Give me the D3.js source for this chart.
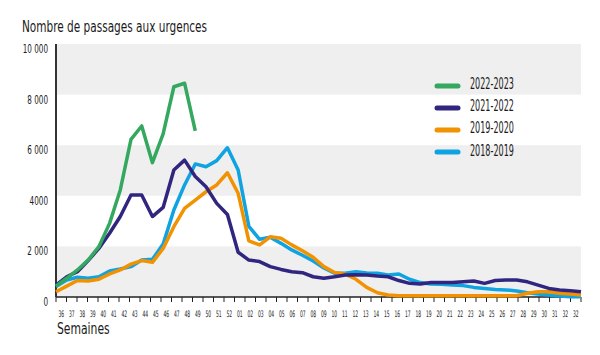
<!DOCTYPE html>
<html><head><meta charset="utf-8">
<script src="https://cdn.jsdelivr.net/npm/d3@7"></script>
<style>
body{margin:0;background:#fff;}
svg text{font-family:"Liberation Sans Narrow","DejaVu Sans Condensed",sans-serif;fill:#1a1a1a;}
</style></head><body>
<svg id="c" width="600" height="355"></svg>
<script>
const weeks = ["36","37","38","39","40","41","42","43","44","45","46","47","48","49","50","51","52",
"01","02","03","04","05","06","07","08","09","10","11","12","13","14","15","16","17","18","19","20",
"21","22","23","24","25","26","27","28","29","30","31","32","32"];
const yTicks = [0,2000,4000,6000,8000,10000];
const yTickLabels = ["0","2 000","4000","6 000","8 000","10 000"];
const seriesNames = ["2022-2023","2021-2022","2019-2020","2018-2019"];
const seriesColors = ["#35a85f","#31267f","#f39200","#0fa3e2"];
const s2022 = [430,740,1070,1460,1990,2910,4230,6230,6760,5310,6450,8310,8450,6570];
const s2021 = [470,800,1000,1440,1920,2520,3180,4030,4030,3180,3540,5020,5410,4760,4360,3700,3260,1770,1460,1400,1200,1090,1000,960,800,740,800,870,880,870,830,800,650,540,510,570,570,570,600,630,540,650,670,670,600,470,340,280,250,210];
const s2019 = [210,430,650,630,700,910,1070,1300,1440,1370,1920,2780,3500,3830,4160,4430,4910,4100,2220,2060,2380,2320,2060,1830,1570,1200,970,900,700,380,170,80,50,50,50,50,50,50,50,50,50,50,50,50,145,210,210,145,120,80];
const s2018 = [410,670,780,740,800,1030,1110,1200,1460,1490,2090,3440,4430,5260,5150,5390,5900,5020,2790,2280,2360,2120,1860,1650,1420,1150,940,935,1000,950,940,870,910,700,570,510,500,470,450,380,340,300,280,240,170,120,80,40,10,10];
const seriesData = [s2022,s2021,s2019,s2018];

const svg = d3.select("#c");
const L = 56, R = 581, T = 44, B = 297;
const idx = d3.range(weeks.length);
const xb = d3.scaleBand().domain(idx).range([L,R]).padding(0);
const xp = d3.scalePoint().domain(idx).range([L,R]);
const y = d3.scaleLinear().domain([0,10000]).range([B,T]);

// alternating bands
const bandStarts = [0,4000,8000];
svg.append("g").selectAll("rect").data(bandStarts).join("rect")
  .attr("x",L).attr("width",R-L)
  .attr("y",d=>y(d+2000)).attr("height",d=>y(d)-y(d+2000))
  .attr("fill","#efefef");

// y labels
svg.append("g").selectAll("text").data(yTicks).join("text")
  .attr("transform",d=>`translate(48,${y(d)+9}) scale(0.7,1)`)
  .attr("text-anchor","end").attr("font-size",11.5)
  .text((d,i)=>yTickLabels[i]);

// x axis
const xg = svg.append("g").attr("transform",`translate(0,${B})`);
xg.append("line").attr("x1",L).attr("x2",R).attr("stroke","#222").attr("stroke-width",1.5);
xg.selectAll("line.t").data(d3.range(weeks.length+1)).join("line").attr("class","t")
  .attr("x1",d=>L+d*xb.bandwidth()).attr("x2",d=>L+d*xb.bandwidth())
  .attr("y1",0).attr("y2",5).attr("stroke","#222").attr("stroke-width",1);
xg.selectAll("text").data(idx).join("text")
  .attr("transform",d=>`translate(${xb(d)+xb.bandwidth()/2},19.5) scale(0.55,1)`)
  .attr("text-anchor","middle").attr("font-size",9)
  .text(d=>weeks[d]);

// y axis line
svg.append("line").attr("x1",L).attr("x2",L).attr("y1",T).attr("y2",B)
  .attr("stroke","#333").attr("stroke-width",2);

// lines
const line = d3.line().x((d,i)=>xp(i)).y(d=>y(d)).curve(d3.curveLinear);
[3,2,1,0].forEach(k=>{
  svg.append("path").datum(seriesData[k]).attr("d",line)
    .attr("fill","none").attr("stroke",seriesColors[k]).attr("stroke-width",3.5)
    .attr("stroke-linejoin","round").attr("stroke-linecap","butt");
});

// legend
const lg = svg.append("g");
seriesNames.forEach((n,i)=>{
  const yy = 86 + i*22;
  lg.append("line").attr("x1",437).attr("x2",458).attr("y1",yy).attr("y2",yy)
    .attr("stroke",seriesColors[i]).attr("stroke-width",5).attr("stroke-linecap","round");
  lg.append("text").attr("transform",`translate(470,${yy+2.5+i*0.4}) scale(0.56,1)`)
    .attr("font-size",16).text(n);
});

// titles
svg.append("text").attr("transform","translate(22,32) scale(0.78,1)").attr("font-size",15).text("Nombre de passages aux urgences");
svg.append("text").attr("transform","translate(57,334) scale(0.8,1)").attr("font-size",15).text("Semaines");
</script>
</body></html>
